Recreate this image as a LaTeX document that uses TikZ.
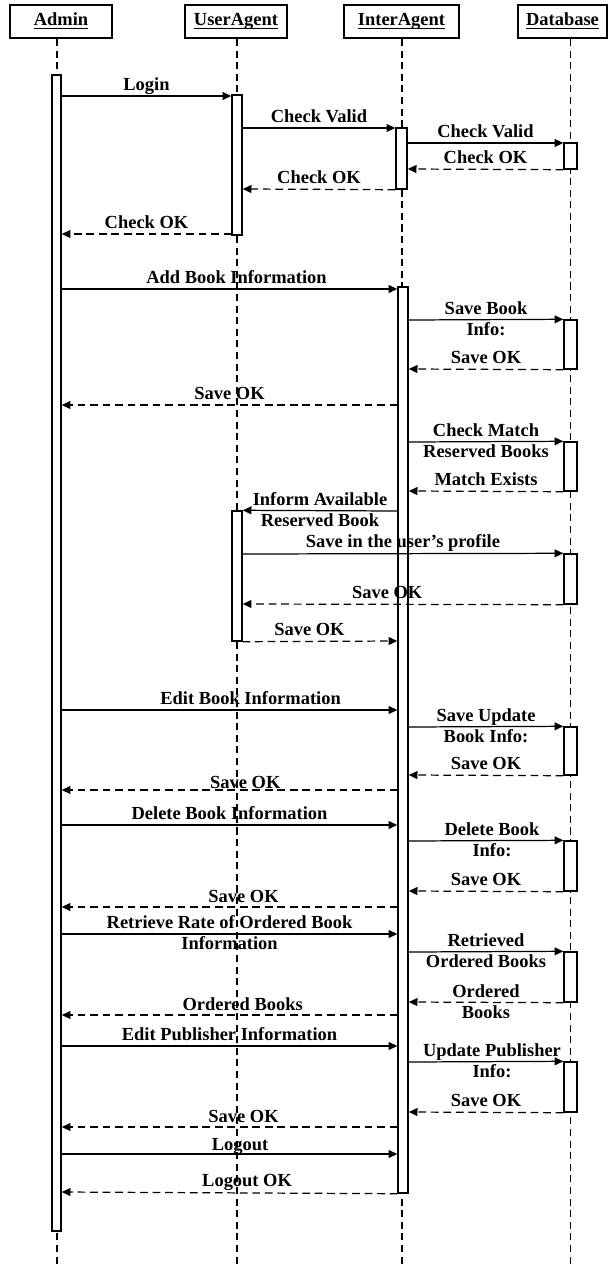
\documentclass[tikz,border=0pt]{standalone}
\usepackage{fontspec}
\setmainfont{Liberation Serif}
\usetikzlibrary{arrows.meta,fit,backgrounds,positioning}

\newcommand\objname[1]{\setbox0\hbox{#1}\rlap{\rule[-1.8pt]{\wd0}{0.6pt}}\box0}

\begin{document}
\begin{tikzpicture}[
  x=0.02cm, y=-0.02cm,
  font=\fontsize{10.5}{12}\selectfont\bfseries,
  head/.style={rectangle, draw, line width=1.1pt, minimum height=0.66cm, inner sep=0pt,
    text height=7.5pt, text depth=2.5pt},
  actbar/.style={rectangle, draw, line width=0.8pt, fill=white, inner sep=0pt},
  lifeline/.style={line width=0.6pt, dash pattern=on 4pt off 2.6pt},
  msg/.style={line width=0.7pt, -{Triangle[length=5pt,width=4.5pt]}},
  reply/.style={msg, dash pattern=on 4.4pt off 2.7pt},
  lbl/.style={midway, above=3pt, inner sep=0pt, text depth=0pt},
  lbltwo/.style={midway, anchor=base, yshift=-9pt, inner sep=0pt, align=center},
]
\useasboundingbox (0,0) rectangle (610,1271);

% objects
\node[head, minimum width=2.04cm] (hadm) at (61,21.5)    {\objname{Admin}};
\node[head, minimum width=2.04cm] (hua)  at (236,21.5)   {\objname{UserAgent}};
\node[head, minimum width=2.30cm] (hia)  at (401.5,21.5) {\objname{InterAgent}};
\node[head, minimum width=1.78cm] (hdb)  at (562.5,21.5) {\objname{Database}};

\coordinate (admEnd) at (57,1265);
\coordinate (uaEnd)  at (237,1265);
\coordinate (iaEnd)  at (402,1265);
\coordinate (dbEnd)  at (570.5,1265);

% activation bars
\node[actbar, fit={(52,75)(61,1231)}]    (adm) {};
\node[actbar, fit={(232,95)(242,235)}]   (ua1) {};
\node[actbar, fit={(232,511)(242,641)}]  (ua2) {};
\node[actbar, fit={(396,128)(407,189)}]  (ia1) {};
\node[actbar, fit={(398,287)(408,1193)}] (ia2) {};
\node[actbar, fit={(564,143)(577,169)}]  (db1) {};
\node[actbar, fit={(564,320)(577,369)}]  (db2) {};
\node[actbar, fit={(564,442)(577,491)}]  (db3) {};
\node[actbar, fit={(564,554)(577,604)}]  (db4) {};
\node[actbar, fit={(564,727)(577,775)}]  (db5) {};
\node[actbar, fit={(564,841)(577,891)}]  (db6) {};
\node[actbar, fit={(564,952)(577,1002)}] (db7) {};
\node[actbar, fit={(564,1062)(577,1112)}] (db8) {};

\begin{scope}[on background layer]
  \draw[lifeline] (hadm.south -| admEnd) -- (admEnd);
  \draw[lifeline] (hua.south -| uaEnd) -- (uaEnd);
  \draw[lifeline] (hia.south -| iaEnd) -- (iaEnd);
  \draw[lifeline] (hdb.south -| dbEnd) -- (dbEnd);
\end{scope}

% login
\draw[msg] (adm.east |- 0,96) -- (ua1.west |- 0,96) node[lbl] {Login};
\draw[msg] (ua1.east |- 0,128) -- (ia1.west |- 0,128) node[lbl] {Check Valid};
\draw[msg] (ia1.east |- 0,143) -- (db1.west |- 0,143) node[lbl] {Check Valid};
\draw[reply] (db1.south west) -- (ia1.east |- 0,169) node[lbl] {Check OK};
\draw[reply] (ia1.south west) -- (ua1.east |- 0,189) node[lbl] {Check OK};
\draw[reply] (ua1.west |- 0,234) -- (adm.east |- 0,234) node[lbl] {Check OK};

% add book
\draw[msg] (adm.east |- 0,289) -- (ia2.west |- 0,289) node[lbl, xshift=4pt] {Add Book Information};
\draw[msg] (ia2.east |- 0,320) -- (db2.north west) node[lbltwo] {Save Book\\Info:};
\draw[reply] (db2.south west) -- (ia2.east |- 0,369) node[lbl] {Save OK};
\draw[reply] (ia2.west |- 0,405) -- (adm.east |- 0,405) node[lbl] {Save OK};
\draw[msg] (ia2.east |- 0,442) -- (db3.north west) node[lbltwo] {Check Match\\Reserved Books};
\draw[reply] (db3.south west) -- (ia2.east |- 0,491) node[lbl] {Match Exists};
\draw[msg] (ia2.west |- 0,511) -- (ua2.north east) node[lbltwo] {Inform Available\\Reserved Book};
\draw[msg] (ua2.east |- 0,554) -- (db4.north west) node[lbl] {Save in the user's profile};
\draw[reply] (db4.south west) -- (ua2.east |- 0,604) node[lbl, xshift=-9pt] {Save OK};
\draw[reply] (ua2.south east) -- (ia2.west |- 0,641) node[lbl, xshift=-6pt] {Save OK};

% edit book
\draw[msg] (adm.east |- 0,710) -- (ia2.west |- 0,710) node[lbl, xshift=12pt] {Edit Book Information};
\draw[msg] (ia2.east |- 0,727) -- (db5.north west) node[lbltwo] {Save Update\\Book Info:};
\draw[reply] (db5.south west) -- (ia2.east |- 0,775) node[lbl] {Save OK};
\draw[reply] (ia2.west |- 0,790) -- (adm.east |- 0,790) node[lbl, xshift=9pt, yshift=-2.5pt] {Save OK};

% delete book
\draw[msg] (adm.east |- 0,825) -- (ia2.west |- 0,825) node[lbl] {Delete Book Information};
\draw[msg] (ia2.east |- 0,841) -- (db6.north west) node[lbltwo, xshift=3.4pt] {Delete Book\\Info:};
\draw[reply] (db6.south west) -- (ia2.east |- 0,891) node[lbl] {Save OK};
\draw[reply] (ia2.west |- 0,907) -- (adm.east |- 0,907) node[lbl, xshift=8pt, yshift=-1pt] {Save OK};

% ordered books
\draw[msg] (adm.east |- 0,934) -- (ia2.west |- 0,934) node[lbltwo] {Retrieve Rate of Ordered Book\\Information};
\draw[msg] (ia2.east |- 0,952) -- (db7.north west) node[lbltwo] {Retrieved\\Ordered Books};
\draw[reply] (db7.south west) -- (ia2.east |- 0,1002) node[lbltwo] {Ordered\\Books};
\draw[reply] (ia2.west |- 0,1015) -- (adm.east |- 0,1015) node[lbl, xshift=7.5pt, yshift=-1pt] {Ordered Books};

% publisher
\draw[msg] (adm.east |- 0,1046) -- (ia2.west |- 0,1046) node[lbl] {Edit Publisher Information};
\draw[msg] (ia2.east |- 0,1062) -- (db8.north west) node[lbltwo, xshift=3.4pt] {Update Publisher\\Info:};
\draw[reply] (db8.south west) -- (ia2.east |- 0,1112) node[lbl] {Save OK};
\draw[reply] (ia2.west |- 0,1127) -- (adm.east |- 0,1127) node[lbl, xshift=8pt, yshift=-1pt] {Save OK};

% logout
\draw[msg] (adm.east |- 0,1154) -- (ia2.west |- 0,1154) node[lbl, xshift=6pt, yshift=-1.5pt] {Logout};
\draw[reply] (ia2.south west) -- (adm.east |- 0,1192) node[lbl, xshift=10pt] {Logout OK};
\end{tikzpicture}
\end{document}
